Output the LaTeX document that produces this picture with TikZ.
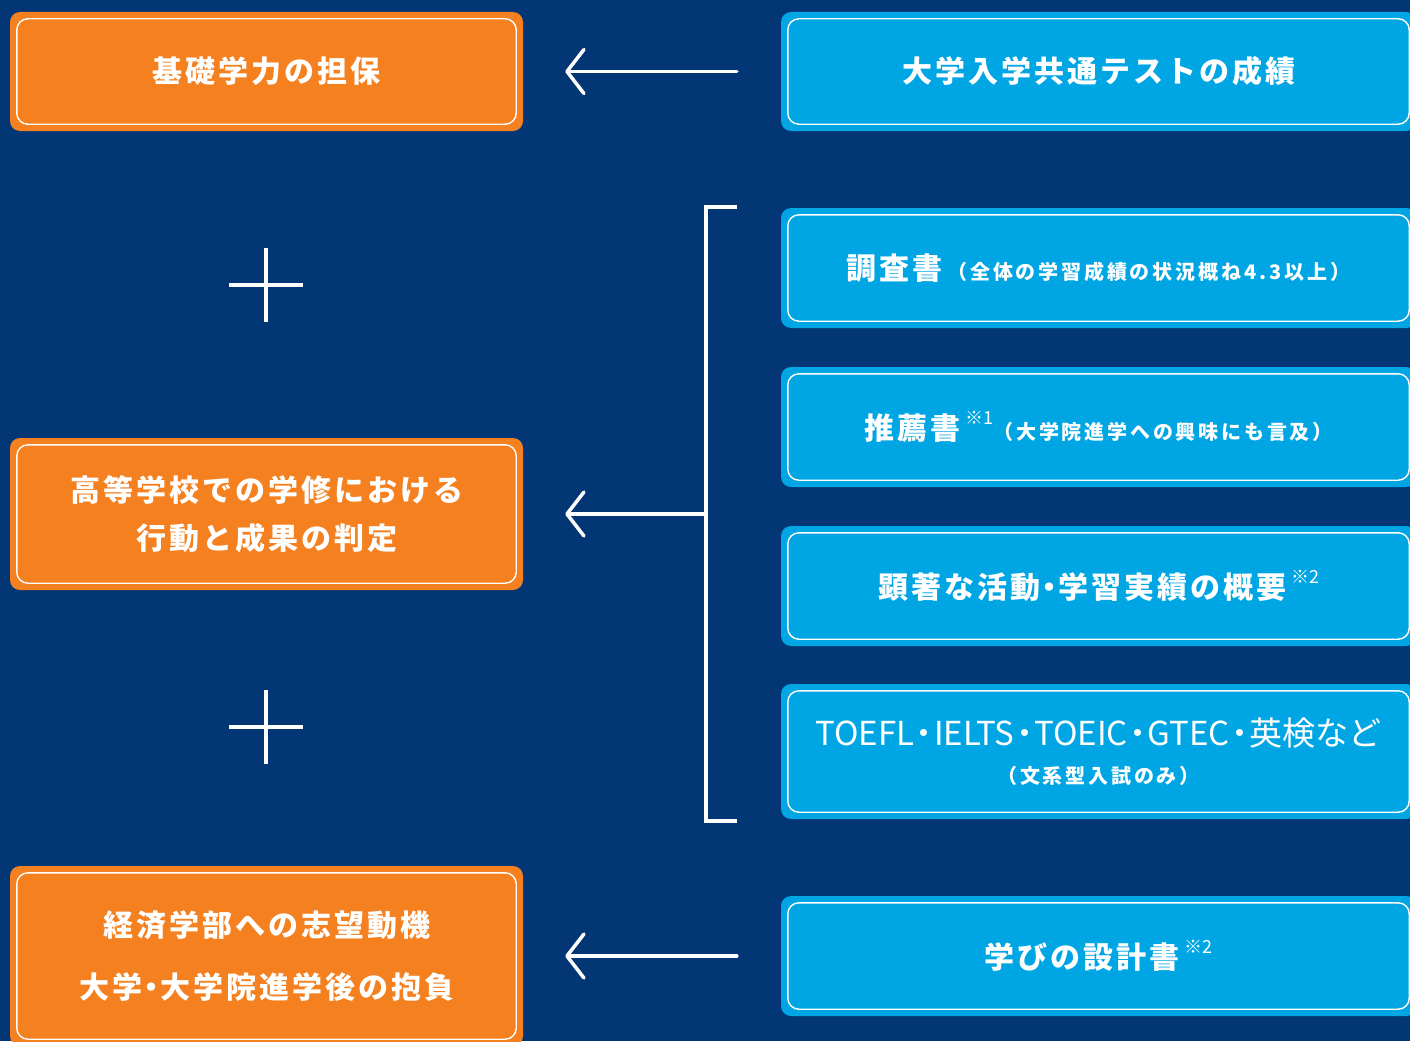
\documentclass[tikz,border=0pt]{standalone}
\usepackage{fontspec}
\setmainfont{Noto Sans CJK JP}
\newfontfamily\jpsp{Noto Sans CJK JP}[LetterSpace=10]
\newfontfamily\jpnote{Noto Sans CJK JP}[LetterSpace=14]
\newfontfamily\jpplain{Noto Sans CJK JP}
\usetikzlibrary{arrows.meta}
\definecolor{navy}{RGB}{3,54,116}
\definecolor{boxorange}{RGB}{244,128,32}
\definecolor{boxblue}{RGB}{0,166,228}
\newcommand\boxfont{\jpsp\bfseries\fontsize{30}{36}\selectfont}
\newcommand\notefont{\jpnote\bfseries\fontsize{20}{24}\selectfont}
\newcommand\supmark[1]{\raisebox{.5em}{\jpplain\mdseries\fontsize{18}{18}\selectfont ※#1}}
\newcommand\dotsep{\kern-.2em・\kern-.2em}
\tikzset{
  orangebox/.style={fill=boxorange, rounded corners=10pt, minimum width=513pt, text=white, align=center, font=\boxfont},
  bluebox/.style={fill=boxblue, rounded corners=10pt, minimum width=635pt, minimum height=120pt, text=white, align=center, font=\boxfont},
  innerline/.style={draw=white, line width=1.4pt, rounded corners=11pt},
  arr/.style={draw=white, line width=3.5pt, line cap=round, -{Straight Barb[length=17pt, width=44pt, round]}},
  bracket/.style={draw=white, line width=4pt},
  plusline/.style={draw=white, line width=4pt}
}
\begin{document}
\begin{tikzpicture}[x=1pt, y=-1pt]
  \fill[navy] (0,0) rectangle (1410,1041);
  \useasboundingbox (0,0) rectangle (1410,1041);
  \clip (0,0) rectangle (1410,1041);

  % left column
  \node[orangebox, minimum height=119pt] (base) at (266.5,71.5) {基礎学力の担保};
  \node[orangebox, minimum height=152pt] (conduct) at (266.5,514) {高等学校での学修における\\[12pt]行動と成果の判定};
  \node[orangebox, minimum height=180pt] (motive) at (266.5,956) {経済学部への志望動機\\[26pt]大学\dotsep 大学院進学後の抱負};

  % right column
  \node[bluebox, minimum height=119pt] (test) at (1098.5,71.5) {大学入学共通テストの成績};
  \node[bluebox] (report) at (1098.5,268) {調査書\,{\notefont（全体の学習成績の状況概ね\,4.3\,以上）}};
  \node[bluebox] (recom) at (1098.5,427) {推薦書\,\supmark{1}{\notefont（大学院進学への興味にも言及）}};
  \node[bluebox] (activ) at (1098.5,586) {顕著な活動\dotsep 学習実績の概要\,\supmark{2}};
  \node[bluebox, minimum height=135pt] (lang) at (1098.5,751.5) {{\jpplain\mdseries\fontsize{33}{36}\selectfont TOEFL\dotsep IELTS\dotsep TOEIC\dotsep GTEC\dotsep 英検など}\\[2pt]{\notefont（文系型入試のみ）}};
  \node[bluebox] (plan) at (1098.5,956) {学びの設計書\,\supmark{2}};

  % white inner frames
  \foreach \n in {base,conduct,motive,test,report,recom,activ,lang,plan}
    \draw[innerline] ([shift={(7,7)}]\n.north west) rectangle ([shift={(-7,-7)}]\n.south east);

  % arrows and bracket
  \coordinate (brtop) at (737,207);
  \coordinate (brbot) at (737,821);
  \coordinate (brmid) at (706,514);
  \draw[bracket] (brtop) -- ++(-31,0) |- (brbot);
  \draw[arr, shorten <=44pt, shorten >=42pt] (test) -- (base);
  \draw[arr, shorten >=42pt] (brmid) -- (conduct);
  \draw[arr, shorten <=44pt, shorten >=42pt] (plan) -- (motive);

  % plus signs
  \foreach \y in {285,727}
    \draw[plusline] (229,\y) -- (303,\y) (266,\y-37) -- (266,\y+37);
\end{tikzpicture}
\end{document}
